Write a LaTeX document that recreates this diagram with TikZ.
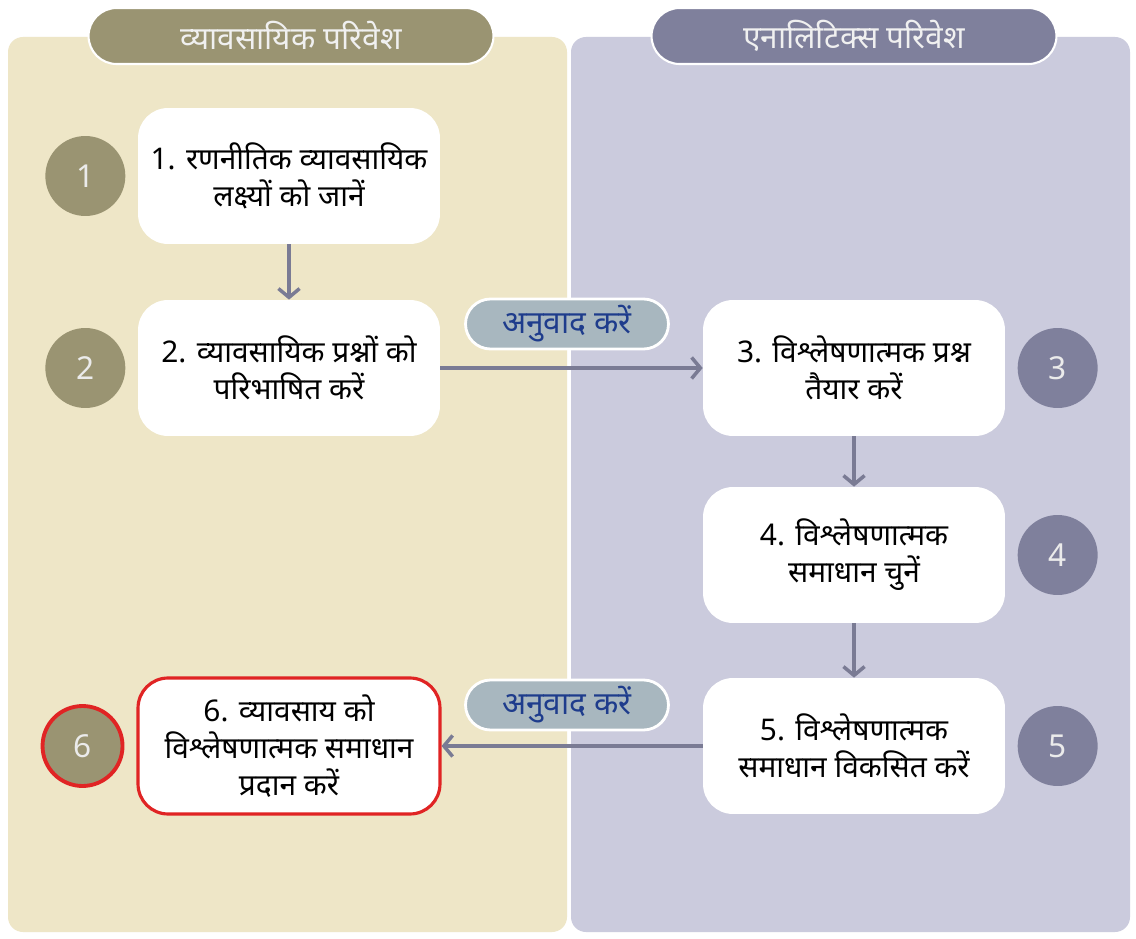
\documentclass[tikz,border=0pt]{standalone}
\usepackage{fontspec}
\setmainfont{Noto Sans}[Script=Devanagari]
\usetikzlibrary{positioning,arrows.meta}

\definecolor{bizpanel}{HTML}{EEE6C7}
\definecolor{anapanel}{HTML}{CBCBDD}
\definecolor{bizdark}{HTML}{9A9472}
\definecolor{anadark}{HTML}{7F809C}
\definecolor{flowgray}{HTML}{7A7B94}
\definecolor{pillgray}{HTML}{A8B7BF}
\definecolor{pillink}{HTML}{1E3C8C}
\definecolor{alertred}{HTML}{E02424}

\tikzset{
  stepcard/.style={fill=white, rounded corners=0.6cm, align=center, minimum width=6.04cm, minimum height=2.72cm, font=\fontsize{17}{21}\selectfont},
  numdot/.style={circle, minimum size=1.6cm, inner sep=0pt, text=white!92!black, font=\fontsize{18}{20}\selectfont},
  envhead/.style={draw=white, line width=1.2pt, rounded corners=0.56cm, minimum width=8.1cm, minimum height=1.12cm, text=white!94!black, font=\fontsize{18}{20}\selectfont},
  transtag/.style={fill=pillgray, draw=white, line width=1.6pt, rounded corners=0.5cm, minimum width=4.06cm, minimum height=1cm, text=pillink, font=\fontsize{18}{20}\selectfont},
  flow/.style={draw=flowgray, line width=2pt, -{Straight Barb[length=5pt, width=12pt, line width=2pt]}}
}

\begin{document}
\begin{tikzpicture}[x=0.02cm, y=-0.02cm]
  \useasboundingbox[fill=white] (0,0) rectangle (1136,939);

  % two environments
  \fill[bizpanel, rounded corners=0.3cm] (8,37) rectangle (567,932);
  \fill[anapanel, rounded corners=0.3cm] (571,37) rectangle (1130,932);

  \node [envhead, fill=bizdark](hbiz) at (291,36) {व्यावसायिक परिवेश};
  \node [envhead, fill=anadark](hana) at (854,36) {एनालिटिक्स परिवेश};

  % step cards
  \node [stepcard](b1) at (289,176) {1. रणनीतिक व्यावसायिक\\लक्ष्यों को जानें};
  \node [stepcard](b2) at (289,368) {2. व्यावसायिक प्रश्नों को\\परिभाषित करें};
  \node [stepcard](b3) at (854,368) {3. विश्लेषणात्मक प्रश्न\\तैयार करें};
  \node [stepcard](b4) at (854,555) {4. विश्लेषणात्मक\\समाधान चुनें};
  \node [stepcard](b5) at (854,746) {5. विश्लेषणात्मक\\समाधान विकसित करें};
  \node [stepcard, draw=alertred, line width=1.8pt](b6) at (289,746) {6. व्यावसाय को\\विश्लेषणात्मक समाधान\\प्रदान करें};

  % number dots
  \node [numdot, fill=bizdark, left = 0.24cm of b1](n1) {1};
  \node [numdot, fill=bizdark, left = 0.24cm of b2](n2) {2};
  \node [numdot, fill=anadark, right = 0.24cm of b3](n3) {3};
  \node [numdot, fill=anadark, right = 0.24cm of b4](n4) {4};
  \node [numdot, fill=anadark, right = 0.24cm of b5](n5) {5};
  \node [numdot, fill=bizdark, draw=alertred, line width=2.2pt, left = 0.24cm of b6](n6) {6};

  % flow
  \draw[flow] (b1) -- (b2);
  \draw[flow] (b2) -- (b3);
  \draw[flow] (b3) -- (b4);
  \draw[flow] (b4) -- (b5);
  \draw[flow] (b5) -- (b6);

  \node [transtag](t1) at (567,324) {अनुवाद करें};
  \node [transtag](t2) at (567,705) {अनुवाद करें};
\end{tikzpicture}
\end{document}
